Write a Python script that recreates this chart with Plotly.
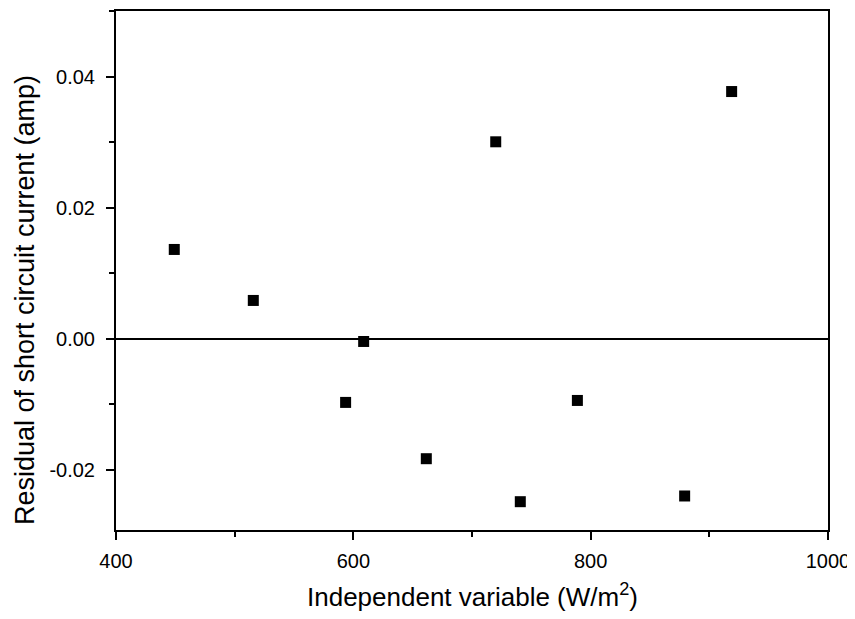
import plotly.graph_objects as go

x_vals = [449.1, 515.7, 593.5, 608.7, 661.5, 720.0, 740.7, 788.8, 879.2, 918.8]
y_vals = [0.01361, 0.00583, -0.00973, -0.00043, -0.01832, 0.03004, -0.02488, -0.00943, -0.02401, 0.03771]

x_ticks = [400, 600, 800, 1000]
y_ticks = [-0.02, 0.00, 0.02, 0.04]
y_tick_text = ["-0.02", "0.00", "0.02", "0.04"]

x_title = "Independent variable (W/m<sup>2</sup>)"
y_title = "Residual of short circuit current (amp)"

FONT = "Arial, Liberation Sans, sans-serif"

fig = go.Figure()
fig.add_trace(go.Scatter(
    x=x_vals, y=y_vals, mode="markers",
    marker=dict(symbol="square", size=11, color="black", line=dict(width=0)),
    showlegend=False,
))

axis_common = dict(
    showline=True, linecolor="black", linewidth=2, mirror=True,
    ticks="outside", ticklen=8, tickwidth=2, tickcolor="black",
    showgrid=False, automargin=False,
    tickfont=dict(family=FONT, size=20, color="black"),
)

fig.update_layout(
    width=855, height=619,
    margin=dict(l=108, r=35, t=3, b=97),
    paper_bgcolor="white", plot_bgcolor="white",
    font=dict(family=FONT, color="black"),
    xaxis=dict(
        range=[400, 1000], tickvals=x_ticks, ticktext=[str(v) for v in x_ticks],
        minor=dict(ticks="outside", ticklen=5, tickwidth=2, tickcolor="black", dtick=100, tick0=400),
        zeroline=False, ticklabelstandoff=4,
        **axis_common,
    ),
    yaxis=dict(
        range=[-0.0292, 0.05], tickvals=y_ticks, ticktext=y_tick_text,
        minor=dict(ticks="outside", ticklen=5, tickwidth=2, tickcolor="black", dtick=0.01, tick0=0),
        zeroline=True, zerolinecolor="black", zerolinewidth=2, ticklabelstandoff=7,
        **axis_common,
    ),
    annotations=[
        dict(
            text=x_title, xref="paper", yref="paper", x=0.5, y=0,
            xanchor="center", yanchor="middle", yshift=-65, showarrow=False,
            font=dict(family=FONT, size=26, color="black"),
        ),
        dict(
            text=y_title, xref="paper", yref="paper", x=0, y=0.443,
            xanchor="center", yanchor="middle", xshift=-91, textangle=-90, showarrow=False,
            font=dict(family=FONT, size=27, color="black"),
        ),
    ],
)

fig.write_html("out.html")
